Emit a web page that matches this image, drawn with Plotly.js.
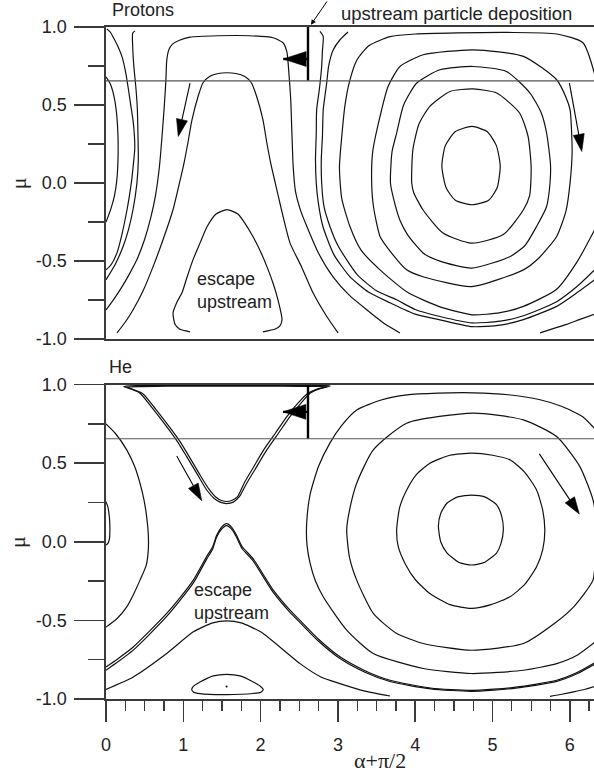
<!DOCTYPE html>
<html><head><meta charset="utf-8">
<script src="https://cdn.plot.ly/plotly-3.0.1.min.js"></script>
<style>html,body{margin:0;padding:0;background:#fff;overflow:hidden}#chart{width:594px;height:772px}</style>
</head><body><div id="chart"></div>
<script>
// ---------- data (x = alpha+pi/2, y = mu) ----------
const X_TICKS = [0,1,2,3,4,5,6];
const X_LABELS = ['0','1','2','3','4','5','6'];
const Y_TICKS = [-1,-0.5,0,0.5,1];
const Y_LABELS = ['-1.0','-0.5','0.0','0.5','1.0'];
const DEPOSITION_X = 2.613;
const DEPOSITION_MU = 0.655;

// Protons panel
const P_L1 = [[0,0.68],[0.06,0.63],[0.11,0.54],[0.14,0.43],[0.155,0.3],[0.155,0.15],[0.14,0.02],[0.11,-0.08],[0.06,-0.17],[0,-0.25]];
const P_L2 = [[0.01,0.987],[0.05,0.97],[0.09,0.938],[0.15,0.88],[0.207,0.81],[0.25,0.72],[0.285,0.617],[0.32,0.5],[0.35,0.4],[0.368,0.3],[0.372,0.22],[0.36,0.15],[0.335,0.03],[0.30,-0.09],[0.272,-0.171],[0.21,-0.32],[0.142,-0.447],[0.07,-0.52],[0,-0.556]];
const P_L3 = [[0.375,0.975],[0.345,0.96],[0.345,0.88],[0.36,0.75],[0.385,0.62],[0.405,0.48],[0.414,0.3],[0.418,0.15],[0.40,0.0],[0.349,-0.171],[0.29,-0.30],[0.22,-0.408],[0.12,-0.52],[0,-0.62]];
const P_TOPLOOP = [[0,-0.813],[0.1,-0.745],[0.2,-0.67],[0.3,-0.585],[0.4,-0.49],[0.5,-0.36],[0.58,-0.22],[0.64,-0.08],[0.69,0.1],[0.725,0.3],[0.755,0.5],[0.775,0.66],[0.785,0.78],[0.81,0.85],[0.86,0.89],[0.95,0.915],[1.087,0.935],[1.44,0.944],[1.86,0.944],[2.16,0.931],[2.29,0.899],[2.34,0.84],[2.365,0.71],[2.39,0.53],[2.405,0.32],[2.42,0.12],[2.45,-0.05],[2.52,-0.18],[2.6,-0.28],[2.75,-0.45],[2.937,-0.601],[3.15,-0.72],[3.376,-0.813],[3.6,-0.9],[3.803,-0.96]];
const P_ARCH = [[0.142,-0.96],[0.25,-0.89],[0.349,-0.813],[0.48,-0.69],[0.608,-0.537],[0.74,-0.36],[0.867,-0.171],[0.95,0.0],[1.01,0.13],[1.06,0.26],[1.113,0.406],[1.19,0.553],[1.255,0.643],[1.345,0.684],[1.45,0.702],[1.565,0.707],[1.68,0.702],[1.79,0.684],[1.88,0.643],[1.95,0.553],[2.03,0.406],[2.08,0.26],[2.13,0.13],[2.19,0.0],[2.27,-0.171],[2.38,-0.383],[2.53,-0.537],[2.678,-0.703],[2.85,-0.85],[3.002,-0.96]];
const P_ESCAPE = [[1.087,-0.953],[0.95,-0.935],[0.893,-0.905],[0.867,-0.832],[0.92,-0.76],[0.983,-0.703],[1.05,-0.6],[1.125,-0.492],[1.22,-0.38],[1.307,-0.28],[1.42,-0.2],[1.565,-0.17],[1.71,-0.2],[1.80,-0.26],[1.902,-0.344],[2.0,-0.44],[2.083,-0.537],[2.16,-0.64],[2.225,-0.748],[2.277,-0.876],[2.25,-0.915],[2.19,-0.935],[2.031,-0.953]];
const P_A = [[2.768,0.972],[2.81,0.94],[2.80,0.85],[2.79,0.747],[2.76,0.6],[2.725,0.47],[2.72,0.32],[2.71,0.15],[2.72,0.0],[2.745,-0.12],[2.807,-0.28],[2.95,-0.46],[3.157,-0.601],[3.4,-0.70],[3.674,-0.767],[4.0,-0.84],[4.321,-0.876],[4.735,-0.92],[5.1,-0.91],[5.40,-0.875],[5.83,-0.79],[6.1,-0.70],[6.32,-0.62]];
const P_B = [[3.131,0.968],[3.03,0.92],[2.94,0.854],[2.88,0.75],[2.855,0.641],[2.83,0.55],[2.81,0.47],[2.80,0.3],[2.785,0.15],[2.79,0.0],[2.82,-0.15],[2.898,-0.28],[3.0,-0.40],[3.247,-0.585],[3.5,-0.69],[3.76,-0.748],[4.0,-0.81],[4.321,-0.855],[4.735,-0.896],[5.1,-0.885],[5.40,-0.85],[5.83,-0.76],[6.1,-0.66],[6.32,-0.556]];
const P_C = [[6.32,0.70],[6.17,0.899],[5.834,0.955],[5.2,0.965],[4.541,0.962],[4.0,0.955],[3.674,0.938],[3.40,0.88],[3.247,0.790],[3.15,0.65],[3.092,0.50],[3.05,0.3],[3.02,0.1],[3.05,-0.1],[3.157,-0.28],[3.3,-0.43],[3.545,-0.556],[3.9,-0.70],[4.321,-0.793],[4.735,-0.844],[5.1,-0.83],[5.40,-0.79],[5.83,-0.68],[6.1,-0.50],[6.32,-0.30]];
const P_D = [[3.437,0.0],[3.45,0.2],[3.545,0.427],[3.65,0.62],[3.803,0.747],[4.105,0.822],[4.75,0.854],[5.40,0.812],[5.83,0.662],[5.95,0.55],[6.003,0.47],[6.03,0.2],[6.003,0.0],[5.95,-0.18],[5.83,-0.342],[5.60,-0.48],[5.40,-0.556],[4.73,-0.663],[4.10,-0.6],[3.89,-0.556],[3.65,-0.42],[3.545,-0.342],[3.46,-0.15],[3.437,0.0]];
const P_E = [[3.68,0.0],[3.70,0.2],[3.76,0.32],[3.85,0.50],[4.02,0.641],[4.32,0.726],[4.75,0.747],[5.18,0.715],[5.485,0.577],[5.63,0.45],[5.70,0.32],[5.75,0.12],[5.744,0.0],[5.70,-0.15],[5.57,-0.278],[5.42,-0.40],[5.23,-0.47],[4.73,-0.545],[4.32,-0.50],[4.105,-0.449],[3.90,-0.33],[3.80,-0.235],[3.72,-0.1],[3.68,0.0]];
const P_F = [[3.955,0.0],[3.97,0.214],[4.05,0.38],[4.19,0.491],[4.45,0.587],[4.75,0.603],[5.054,0.577],[5.35,0.449],[5.46,0.30],[5.50,0.10],[5.48,-0.08],[5.40,-0.171],[5.14,-0.33],[4.73,-0.385],[4.36,-0.32],[4.10,-0.171],[3.98,-0.06],[3.955,0.0]];
const P_G = [[4.735,0.363],[4.93,0.33],[5.05,0.24],[5.10,0.11],[5.06,-0.03],[4.95,-0.11],[4.735,-0.139],[4.52,-0.11],[4.40,-0.03],[4.345,0.11],[4.39,0.24],[4.52,0.33],[4.735,0.363]];
const P_FRAG = [[5.615,-0.96],[5.834,-0.925],[5.96,-0.905],[6.15,-0.87],[6.32,-0.84]];

// He panel
const H_ARC = [[0,0.75],[0.12,0.69],[0.268,0.584],[0.37,0.48],[0.44,0.372],[0.49,0.27],[0.526,0.159],[0.547,0.05],[0.547,-0.053],[0.52,-0.15],[0.44,-0.244],[0.36,-0.33],[0.268,-0.414],[0.14,-0.49],[0,-0.543]];
const H_SLIVER = [[0,0.255],[0.025,0.22],[0.045,0.15],[0.05,0.08],[0.045,0.02],[0.025,-0.01],[0,-0.02]];
const H_C1 = [[6.32,0.72],[6.171,0.794],[5.9,0.86],[5.615,0.903],[5.2,0.935],[4.748,0.947],[4.3,0.945],[3.894,0.934],[3.55,0.90],[3.247,0.839],[3.05,0.74],[2.898,0.629],[2.75,0.48],[2.64,0.30],[2.596,0.117],[2.60,-0.02],[2.64,-0.136],[2.71,-0.25],[2.81,-0.35],[3.114,-0.562],[3.458,-0.711],[4.105,-0.806],[4.73,-0.838],[5.40,-0.817],[5.83,-0.775],[6.1,-0.72],[6.32,-0.64]];
const H_C2 = [[6.30,0.266],[6.13,0.478],[5.83,0.669],[5.40,0.775],[4.75,0.818],[3.89,0.754],[3.458,0.584],[3.243,0.372],[3.15,0.2],[3.114,0.075],[3.15,-0.1],[3.243,-0.244],[3.458,-0.456],[3.75,-0.58],[4.105,-0.647],[4.73,-0.69],[5.40,-0.647],[5.8,-0.52],[6.05,-0.414],[6.30,-0.244],[6.33,-0.1],[6.34,0.12],[6.30,0.266]];
const H_C3 = [[3.76,0.075],[3.80,0.22],[3.89,0.329],[4.02,0.43],[4.19,0.499],[4.45,0.55],[4.73,0.563],[5.0,0.55],[5.23,0.52],[5.42,0.44],[5.57,0.329],[5.65,0.2],[5.677,0.075],[5.65,-0.05],[5.57,-0.159],[5.42,-0.27],[5.226,-0.35],[4.98,-0.40],[4.73,-0.424],[4.45,-0.40],[4.19,-0.329],[4.0,-0.24],[3.868,-0.138],[3.78,-0.03],[3.76,0.075]];
const H_C4 = [[4.30,0.10],[4.33,0.18],[4.41,0.245],[4.55,0.285],[4.73,0.297],[4.90,0.285],[5.054,0.235],[5.12,0.16],[5.14,0.075],[5.11,-0.01],[5.054,-0.07],[4.90,-0.13],[4.73,-0.148],[4.56,-0.13],[4.41,-0.07],[4.33,0.0],[4.30,0.10]];
const H_UP_OUTER = [[0.23,0.987],[0.33,0.97],[0.44,0.945],[0.6,0.85],[0.785,0.732],[0.92,0.64],[1.044,0.541],[1.18,0.43],[1.303,0.329],[1.40,0.275],[1.475,0.252],[1.56,0.243],[1.647,0.252],[1.73,0.29],[1.82,0.372],[1.95,0.478],[2.08,0.584],[2.23,0.69],[2.38,0.796],[2.52,0.88],[2.64,0.945],[2.78,0.975],[2.90,0.99],[2.8,0.994],[2.4,0.995],[1.6,0.995],[0.8,0.995],[0.4,0.993],[0.23,0.987]];
const H_UP_INNER = [[0.27,0.983],[0.37,0.965],[0.48,0.94],[0.64,0.845],[0.825,0.727],[0.96,0.635],[1.08,0.538],[1.21,0.43],[1.325,0.34],[1.42,0.285],[1.495,0.262],[1.56,0.256],[1.625,0.262],[1.70,0.285],[1.795,0.38],[1.915,0.48],[2.04,0.584],[2.19,0.69],[2.34,0.796],[2.48,0.88],[2.60,0.94],[2.72,0.97],[2.86,0.985],[2.7,0.988],[2.3,0.989],[1.6,0.989],[0.8,0.989],[0.45,0.987],[0.27,0.983]];
const H_LOW_OUTER = [[0,-0.796],[0.15,-0.745],[0.353,-0.669],[0.55,-0.575],[0.785,-0.456],[0.95,-0.36],[1.13,-0.244],[1.30,-0.096],[1.38,-0.032],[1.43,0.04],[1.49,0.09],[1.56,0.115],[1.63,0.09],[1.69,0.04],[1.76,-0.03],[1.906,-0.11],[2.164,-0.308],[2.38,-0.435],[2.51,-0.5],[2.75,-0.62],[3.027,-0.732],[3.35,-0.82],[3.674,-0.881],[4.2,-0.93],[4.73,-0.945],[5.3,-0.925],[5.83,-0.881],[6.1,-0.83],[6.32,-0.77]];
const H_LOW_INNER = [[0,-0.817],[0.15,-0.765],[0.353,-0.689],[0.55,-0.595],[0.785,-0.475],[0.95,-0.378],[1.13,-0.262],[1.30,-0.112],[1.38,-0.046],[1.43,0.028],[1.49,0.078],[1.56,0.103],[1.63,0.078],[1.69,0.028],[1.76,-0.043],[1.906,-0.124],[2.164,-0.322],[2.38,-0.449],[2.51,-0.514],[2.75,-0.633],[3.027,-0.743],[3.35,-0.83],[3.674,-0.889],[4.2,-0.936],[4.73,-0.951],[5.3,-0.931],[5.83,-0.888],[6.1,-0.838],[6.32,-0.779]];
const H_LOWARCH = [[0,-0.939],[0.353,-0.86],[0.785,-0.711],[1.13,-0.573],[1.38,-0.516],[1.565,-0.503],[1.75,-0.516],[2.0,-0.573],[2.35,-0.711],[2.51,-0.775],[2.78,-0.86],[3.027,-0.902],[3.35,-0.95],[3.674,-0.981]];
const H_FRAG = [[5.744,-0.983],[5.9,-0.97],[6.05,-0.955],[6.2,-0.938],[6.32,-0.92]];
const H_ISLAND = [[1.109,-0.94],[1.13,-0.92],[1.216,-0.892],[1.388,-0.853],[1.56,-0.843],[1.735,-0.853],[1.906,-0.892],[2.0,-0.92],[2.035,-0.94],[2.0,-0.958],[1.906,-0.965],[1.56,-0.972],[1.216,-0.966],[1.13,-0.955],[1.109,-0.94]];
const H_ISLAND_CENTER = [[1.56,-0.92]];

// direction arrows: [tail, head]
const P_ARROW_L = [[1.087,0.641],[0.935,0.299]];
const P_ARROW_R = [[5.995,0.641],[6.155,0.203]];
const H_ARROW_L = [[0.915,0.546],[1.238,0.261]];
const H_ARROW_R = [[5.606,0.559],[6.123,0.176]];
const P_DEP_ARROW = [[2.613,0.795],[2.294,0.795]];
const H_DEP_ARROW = [[2.613,0.826],[2.29,0.826]];

// ---------- drawing ----------
const XMAX = 6.313;
const INK = '#000';
const AX = '#3a3a3a';
const xs = p => p.map(v => v[0]);
const ys = p => p.map(v => v[1]);
const traces = [];
function curve(p, ax, w) {
  traces.push({type:'scatter', mode:'lines', x:xs(p), y:ys(p), xaxis:ax[0], yaxis:ax[1],
    line:{color:'#111', width:w||1.2, shape:'spline', smoothing:0.6}, hoverinfo:'skip'});
}
function arrow(p, ax, w, size) {
  traces.push({type:'scatter', mode:'lines+markers', x:xs(p), y:ys(p), xaxis:ax[0], yaxis:ax[1],
    line:{color:INK, width:w}, cliponaxis:false,
    marker:{symbol:['circle','arrow'], size:[0,size], angleref:'previous', color:INK, opacity:1, line:{width:0.6, color:INK}},
    hoverinfo:'skip'});
}
const TOP = ['x','y'], BOT = ['x2','y2'];
[P_L1,P_L2,P_L3,P_TOPLOOP,P_ARCH,P_ESCAPE,P_A,P_B,P_C,P_D,P_E,P_F,P_G,P_FRAG].forEach(p => curve(p, TOP));
[H_ARC,H_SLIVER,H_C1,H_C2,H_C3,H_C4,H_UP_OUTER,H_UP_INNER,H_LOW_OUTER,H_LOW_INNER,H_LOWARCH,H_FRAG,H_ISLAND].forEach(p => curve(p, BOT));
traces.push({type:'scatter', mode:'markers', x:xs(H_ISLAND_CENTER), y:ys(H_ISLAND_CENTER), xaxis:'x2', yaxis:'y2',
  marker:{size:2, color:INK}, hoverinfo:'skip'});
// deposition bars
[TOP, BOT].forEach(ax => traces.push({type:'scatter', mode:'lines', x:[DEPOSITION_X,DEPOSITION_X], y:[DEPOSITION_MU,1],
  xaxis:ax[0], yaxis:ax[1], line:{color:INK, width:2.4}, hoverinfo:'skip'}));
arrow(P_ARROW_L, TOP, 1.1, 18); arrow(P_ARROW_R, TOP, 1.1, 18);
arrow(H_ARROW_L, BOT, 1.1, 18); arrow(H_ARROW_R, BOT, 1.1, 18);
arrow(P_DEP_ARROW, TOP, 2.4, 24); arrow(H_DEP_ARROW, BOT, 2.4, 24);

const tickFont = {family:'Liberation Sans, Arial, sans-serif', size:18, color:'#222'};
function yax(domain) {
  return {domain:domain, range:[-1,1], showline:true, linecolor:AX, linewidth:1.6,
    ticks:'outside', ticklen:30, tickwidth:1.5, tickcolor:AX, tickvals:Y_TICKS, ticktext:Y_LABELS,
    tickfont:tickFont, ticklabelstandoff:4,
    minor:{tickvals:[-0.75,-0.25,0.25,0.75], ticks:'outside', ticklen:16, tickwidth:1.5, tickcolor:AX},
    showgrid:false, zeroline:false, fixedrange:true, automargin:false};
}
const SERIF = 'Liberation Serif, Times New Roman, serif';
const layout = {
  width:594, height:772, margin:{l:106, r:0, t:27.3, b:73},
  paper_bgcolor:'#fff', plot_bgcolor:'rgba(0,0,0,0)', showlegend:false,
  font:{family:'Liberation Sans, Arial, sans-serif', size:18, color:'#222'},
  xaxis:{domain:[0,1], range:[0,XMAX], anchor:'y', showline:true, mirror:true, linecolor:AX, linewidth:1.6,
    ticks:'', showticklabels:false, showgrid:false, zeroline:false, fixedrange:true, automargin:false},
  yaxis:Object.assign(yax([0.5355,1]), {anchor:'x'}),
  xaxis2:{domain:[0,1], range:[0,XMAX], anchor:'y2', showline:true, mirror:true, linecolor:AX, linewidth:1.6,
    ticks:'outside', ticklen:21, tickwidth:1.5, tickcolor:AX, tickvals:X_TICKS, ticktext:X_LABELS, tickfont:tickFont,
    ticklabelstandoff:8,
    minor:{dtick:0.25, tick0:0, ticks:'outside', ticklen:10, tickwidth:1.3, tickcolor:AX},
    showgrid:false, zeroline:false, fixedrange:true, automargin:false},
  yaxis2:Object.assign(yax([0,0.468]), {anchor:'x2'}),
  shapes:[
    {type:'line', xref:'paper', x0:0, x1:1, yref:'y', y0:DEPOSITION_MU, y1:DEPOSITION_MU, line:{color:'#555', width:1.2}},
    {type:'line', xref:'paper', x0:0, x1:1, yref:'y2', y0:DEPOSITION_MU, y1:DEPOSITION_MU, line:{color:'#555', width:1.2}}
  ],
  annotations:[
    {xref:'paper', yref:'paper', x:0.0082, y:1.0258, text:'Protons', showarrow:false, xanchor:'left', yanchor:'middle', font:{size:18}},
    {xref:'paper', yref:'paper', x:0.002, y:0.4943, text:'He', showarrow:false, xanchor:'left', yanchor:'middle', font:{size:18}},
    {xref:'paper', yref:'paper', x:0.4775, y:1.0198, text:'upstream particle deposition', showarrow:false, xanchor:'left', yanchor:'middle', font:{size:18.5}},
    {xref:'paper', yref:'paper', x:0.42, y:1.0034, ax:17, ay:-27, text:'', showarrow:true, arrowhead:2, arrowsize:1, arrowwidth:1, arrowcolor:INK},
    {xref:'x', yref:'y', x:1.151, y:-0.69, text:'escape<br>upstream', showarrow:false, xanchor:'left', yanchor:'middle', align:'left', font:{size:18}},
    {xref:'x2', yref:'y2', x:1.113, y:-0.378, text:'escape<br>upstream', showarrow:false, xanchor:'left', yanchor:'middle', align:'left', font:{size:18}},
    {xref:'paper', yref:'y', x:-0.18, y:0, text:'μ', textangle:-90, showarrow:false, xanchor:'center', yanchor:'middle', font:{family:SERIF, size:22}},
    {xref:'paper', yref:'y2', x:-0.18, y:0, text:'μ', textangle:-90, showarrow:false, xanchor:'center', yanchor:'middle', font:{family:SERIF, size:22}},
    {xref:'paper', yref:'paper', x:0.5615, y:-0.0908, text:'α+π/2', showarrow:false, xanchor:'center', yanchor:'middle', font:{family:SERIF, size:22}}
  ]
};
Plotly.newPlot('chart', traces, layout, {staticPlot:true, displayModeBar:false});
</script></body></html>
